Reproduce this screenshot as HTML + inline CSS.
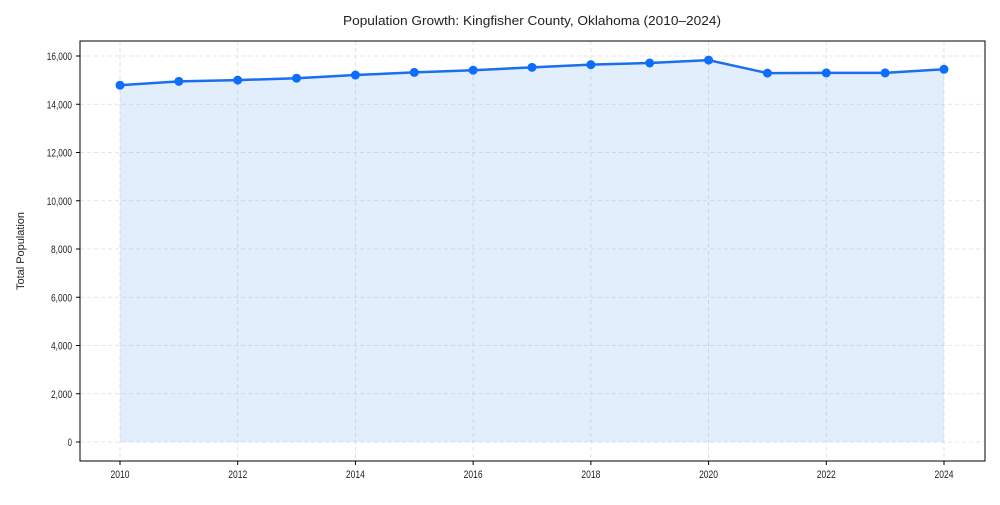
<!DOCTYPE html>
<html><head><meta charset="utf-8"><style>
body{margin:0;background:#fff;}
svg{font-family:"Liberation Sans",Arial,sans-serif;}
</style></head><body>
<svg width="1000" height="500">
<text x="532" y="25" text-anchor="middle" font-size="13" fill="#222" textLength="378" lengthAdjust="spacingAndGlyphs">Population Growth: Kingfisher County, Oklahoma (2010–2024)</text>
<text transform="translate(24,251) rotate(-90)" text-anchor="middle" font-size="11" fill="#222" textLength="78" lengthAdjust="spacingAndGlyphs">Total Population</text>
<g id="grid"></g>
<g id="marks"></g>
<rect x="80" y="41" width="905" height="420" fill="none" stroke="#000" stroke-width="1"/>
<g id="axes"></g>
</svg>
<script>
const years=[2010,2011,2012,2013,2014,2015,2016,2017,2018,2019,2020,2021,2022,2023,2024];
const population=[14790,14950,15000,15080,15210,15320,15410,15530,15640,15710,15830,15290,15300,15300,15450];
const yTicks=[0,2000,4000,6000,8000,10000,12000,14000,16000];
const xTicks=[2010,2012,2014,2016,2018,2020,2022,2024];
const NS="http://www.w3.org/2000/svg";
const xs=v=>120+(v-2010)*(944-120)/14;
const ys=v=>442-v*(442-56)/16000;
function mk(tag,attrs,parent){const e=document.createElementNS(NS,tag);for(const k in attrs)e.setAttribute(k,attrs[k]);document.getElementById(parent).appendChild(e);return e;}
yTicks.forEach(t=>{
 const g=mk('line',{x1:80,x2:985,y1:ys(t),y2:ys(t),stroke:'#ddd','stroke-dasharray':'4,3','stroke-width':0.8},'grid');
 
 
 mk('line',{x1:76,x2:80,y1:ys(t),y2:ys(t),stroke:'#000'},'axes');
 const txt=t.toLocaleString('en-US');
 const l=mk('text',{x:72,y:ys(t)+4,'text-anchor':'end','font-size':11,fill:'#222',textLength:txt.length*4.2,lengthAdjust:'spacingAndGlyphs'},'axes');
 l.textContent=txt;
 
 
});
xTicks.forEach(t=>{
 const g=mk('line',{x1:xs(t),x2:xs(t),y1:41,y2:461,stroke:'#ddd','stroke-dasharray':'4,3','stroke-width':0.8},'grid');
 
 
 mk('line',{x1:xs(t),x2:xs(t),y1:461,y2:465,stroke:'#000'},'axes');
 const l=mk('text',{x:xs(t),y:478,'text-anchor':'middle','font-size':11,fill:'#222',textLength:19,lengthAdjust:'spacingAndGlyphs'},'axes');
 l.textContent=t;
 
 
});
let pts=years.map((y,i)=>xs(y)+','+ys(population[i]));
const area=mk('polygon',{points:xs(years[0])+','+ys(0)+' '+pts.join(' ')+' '+xs(years[years.length-1])+','+ys(0),fill:'#1a73e8','fill-opacity':0.12},'marks');


const line=mk('polyline',{points:pts.join(' '),fill:'none',stroke:'#1a6ff0','stroke-width':2.5},'marks');


years.forEach((y,i)=>{
 const c=mk('circle',{cx:xs(y),cy:ys(population[i]),r:4.5,fill:'#0d6efd'},'marks');
 
 
});
</script>
</body></html>
